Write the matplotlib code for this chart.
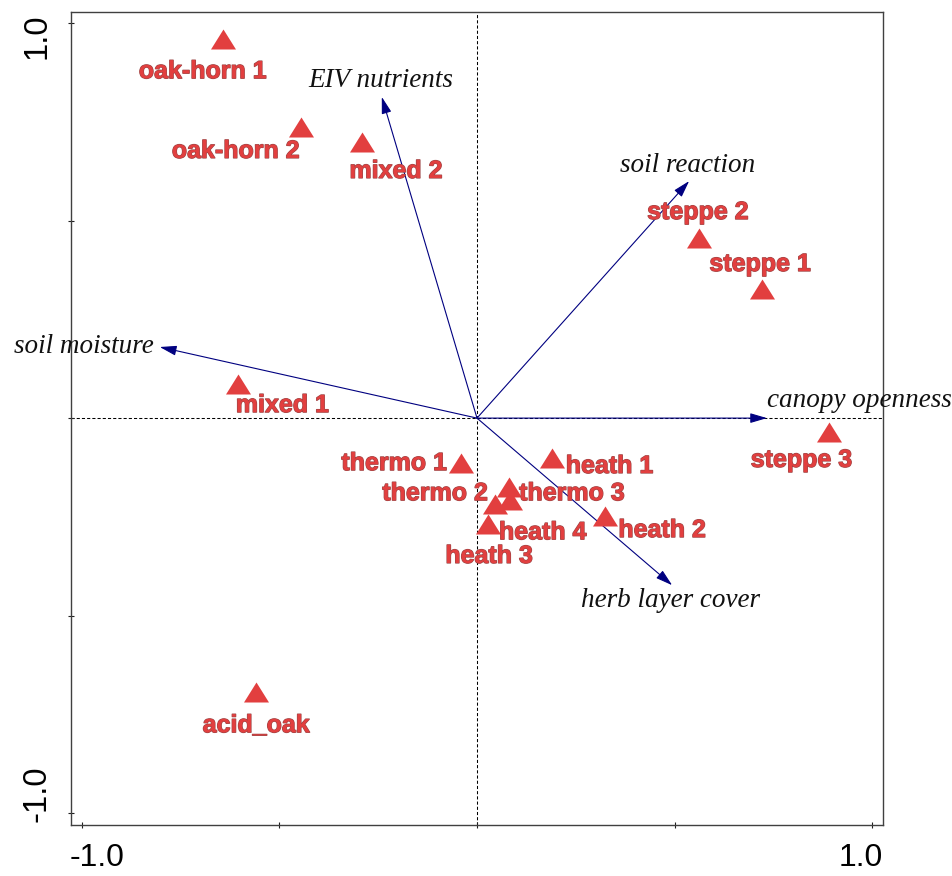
import matplotlib
matplotlib.use("Agg")
import matplotlib.pyplot as plt
from matplotlib.path import Path
import matplotlib.patheffects as pe

# Sample scores on ordination axes 1 and 2
samples = ["oak-horn 1", "oak-horn 2", "mixed 2", "steppe 2", "steppe 1", "mixed 1",
           "steppe 3", "thermo 1", "heath 1", "heath 2", "thermo 2", "thermo 3",
           "heath 4", "heath 3", "acid_oak"]
sample_x = [-0.642, -0.446, -0.291, 0.563, 0.722, -0.605, 0.891, -0.041, 0.190,
            0.323, 0.046, 0.081, 0.084, 0.028, -0.559]
sample_y = [0.959, 0.737, 0.699, 0.457, 0.328, 0.086, -0.035, -0.114, -0.101,
            -0.248, -0.218, -0.175, -0.208, -0.268, -0.694]

# Environmental variables (biplot arrows)
variables = ["EIV nutrients", "soil reaction", "soil moisture", "canopy openness",
             "herb layer cover"]
var_x = [-0.241, 0.537, -0.803, 0.734, 0.494]
var_y = [0.813, 0.600, 0.180, 0.0, -0.423]

# Axis tick labels
tick_values = [-1.0, 1.0]
tick_labels = ["-1.0", "1.0"]

# Label placement (pixel offsets from the mark)
sample_offsets = [(-20.5, -39), (-65, -31), (34, -36), (-1.5, 18.5), (-2, 17.5),
                  (44.5, -28), (-27.5, -35), (-66.5, -7), (57.5, -15), (57.5, -21),
                  (-60, 4), (63, -13), (32.5, -39), (1, -39), (0, -40)]
var_offsets = [((-1, 10), "center"), ((-1.5, 9), "center"), ((-6, -6), "right"),
               ((0, 11), "left"), ((-2, -22), "center")]

RED = "#e23f3f"
NAVY = "#000080"

fig = plt.figure(figsize=(9.52, 8.76), dpi=100)
ax = fig.add_axes([70.5 / 952, 51 / 876, 813 / 952, 813 / 876])
ax.set_xlim(-1.029, 1.029)
ax.set_ylim(-1.030, 1.028)

for s in ax.spines.values():
    s.set_color("#404040")
    s.set_linewidth(1.0)

ax.set_xticks([-1.0, -0.5, 0.0, 0.5, 1.0])
ax.set_yticks([-1.0, -0.5, 0.0, 0.5, 1.0])
ax.set_xticklabels([])
ax.set_yticklabels([])
ax.tick_params(direction="inout", length=5, width=0.8, color="#202020")

# dashed zero lines
ax.axhline(0, color="black", lw=0.75, ls=(0, (3, 2)), zorder=1)
ax.axvline(0, color="black", lw=0.75, ls=(0, (3, 2)), zorder=1)

# environmental arrows
for name, vx, vy, (off, ha) in zip(variables, var_x, var_y, var_offsets):
    ax.annotate("", xy=(vx, vy), xytext=(0, 0),
                arrowprops=dict(arrowstyle="-|>,head_length=0.85,head_width=0.25",
                                color=NAVY, lw=0.8, shrinkA=0, shrinkB=0,
                                mutation_scale=12), zorder=2)
    ax.annotate(name, xy=(vx, vy), xytext=off, textcoords="offset pixels",
                ha=ha, va="baseline", fontsize=19.5, style="italic",
                family="Liberation Serif", color="#111111", zorder=4,
                annotation_clip=False)

# sample triangles
tri = Path([(-1.25, -1.0), (1.25, -1.0), (0.0, 1.0), (-1.25, -1.0)],
           [Path.MOVETO, Path.LINETO, Path.LINETO, Path.CLOSEPOLY])
ax.plot(sample_x, sample_y, ls="none", marker=tri, markersize=18,
        color=RED, markeredgewidth=0, zorder=3)

stroke = [pe.withStroke(linewidth=0.9, foreground="#9c4545")]
for name, sx, sy, off in zip(samples, sample_x, sample_y, sample_offsets):
    ax.annotate(name, xy=(sx, sy), xytext=off, textcoords="offset pixels",
                ha="center", va="baseline", fontsize=18, fontweight="bold",
                family="Liberation Sans", color=RED, zorder=5,
                path_effects=stroke)

# tick labels
for v, lab in zip(tick_values, tick_labels):
    ax.annotate(lab, xy=(v, 0), xycoords=ax.get_xaxis_transform(),
                xytext=(-12 if v < 0 else 11, -18), textcoords="offset pixels",
                ha="left" if v < 0 else "right", va="top",
                fontsize=23, family="Liberation Sans", color="black",
                annotation_clip=False)
    ax.annotate(lab, xy=(0, v), xycoords=ax.get_yaxis_transform(),
                xytext=(-18, -9 if v < 0 else 10), textcoords="offset pixels",
                ha="right", va="bottom" if v < 0 else "top", rotation=90,
                fontsize=23.5, family="Liberation Sans", color="black",
                annotation_clip=False)

fig.savefig("out.png", dpi=100)
